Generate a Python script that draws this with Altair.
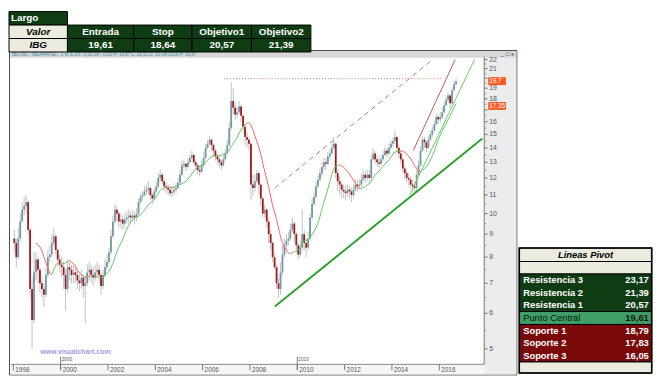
import altair as alt
import pandas as pd

# ------------------------------------------------------------------ data
start_year = 1998          # first monthly bar = January 1998
first_open = 8.8

close = [
    8.6, 8.0, 8.8, 9.6, 10.2, 10.4, 10.6, 9.2, 6.8, 5.8, 7.4, 7.9,
    7.5, 7.0, 6.8, 6.6, 7.3, 8.0, 8.1, 8.6, 8.9, 8.3, 7.9, 7.7,
    7.6, 7.3, 6.8, 7.6, 7.5, 7.3, 7.4, 7.3, 7.1, 7.0, 7.2, 6.9,
    7.0, 7.4, 7.5, 7.3, 7.2, 7.4, 7.5, 7.3, 6.9, 7.3, 7.6, 7.8,
    8.2, 8.9, 9.6, 10.2, 10.0, 9.6, 9.7, 9.5, 9.7, 9.8, 9.9, 9.8,
    9.9, 9.8, 10.0, 10.6, 10.9, 11.0, 11.2, 11.3, 11.4, 11.0, 10.8, 11.2,
    11.5, 12.0, 12.2, 11.8, 11.5, 11.4, 11.3, 11.1, 11.2, 11.3, 11.4, 11.7,
    12.2, 12.8, 12.9, 12.7, 13.0, 13.3, 13.5, 13.0, 12.8, 12.5, 12.4, 12.8,
    13.3, 14.0, 14.3, 14.6, 14.2, 13.8, 13.4, 13.2, 13.0, 12.8, 13.2, 13.6,
    14.2, 15.5, 17.8, 17.2, 16.6, 16.8, 17.3, 16.5, 15.6, 14.8, 14.6, 14.3,
    11.6, 11.4, 11.8, 12.3, 11.6, 10.8, 10.0, 10.2, 9.6, 9.0, 8.6, 8.0,
    7.6, 7.0, 6.8, 7.4, 8.1, 8.5, 8.7, 8.8, 9.2, 9.5, 9.0, 8.5,
    8.1, 8.4, 9.0, 8.6, 8.4, 8.8, 9.8, 10.5, 10.9, 11.5, 11.9, 12.3,
    12.7, 13.0, 12.9, 13.4, 13.6, 14.0, 14.3, 12.3, 11.8, 11.6, 11.3, 11.2,
    11.1, 11.3, 11.2, 11.0, 11.3, 11.6, 11.5, 11.6, 11.9, 12.2, 12.0, 12.2,
    12.0, 13.2, 13.6, 13.2, 13.0, 12.9, 13.2, 13.5, 13.8, 13.6, 14.0, 14.3,
    14.5, 14.8, 14.0, 13.6, 13.2, 12.6, 12.3, 12.0, 11.9, 11.6, 11.5, 11.4,
    12.2, 12.8, 13.8, 14.6, 14.4, 14.0, 14.6, 15.0, 15.3, 15.8, 16.4, 16.2,
    16.4, 16.8, 17.4, 17.9, 18.3, 17.6, 18.8, 19.4, 19.7,
]
high = [
    9.2, 8.8, 9.3, 10.0, 10.6, 10.9, 11.0, 10.7, 9.3, 7.2, 8.2, 8.2,
    8.0, 7.6, 7.2, 7.0, 7.6, 8.3, 8.5, 9.0, 9.3, 9.0, 8.4, 8.1,
    8.0, 7.8, 7.5, 7.9, 7.8, 7.7, 7.7, 7.6, 7.5, 7.3, 7.5, 7.3,
    7.3, 7.7, 7.8, 7.7, 7.6, 7.7, 7.8, 7.7, 7.4, 7.5, 7.9, 8.1,
    8.4, 9.2, 9.9, 10.5, 10.4, 10.1, 10.0, 9.9, 10.0, 10.1, 10.2, 10.1,
    10.2, 10.1, 10.3, 10.8, 11.1, 11.2, 11.5, 11.6, 11.8, 11.5, 11.1, 11.4,
    11.8, 12.3, 12.5, 12.3, 11.9, 11.7, 11.6, 11.5, 11.5, 11.6, 11.7, 12.0,
    12.5, 13.1, 13.2, 13.0, 13.3, 13.5, 13.8, 13.6, 13.2, 12.9, 12.8, 13.1,
    13.7, 14.3, 14.6, 14.9, 14.7, 14.3, 13.9, 13.6, 13.4, 13.2, 13.5, 13.9,
    14.6, 16.0, 19.6, 19.0, 17.6, 17.3, 17.8, 17.5, 16.6, 15.8, 15.2, 14.8,
    14.4, 12.2, 12.2, 12.5, 12.4, 11.7, 10.9, 10.5, 10.3, 9.8, 9.2, 8.7,
    8.2, 7.7, 7.2, 7.8, 8.5, 8.8, 9.0, 9.1, 9.5, 9.8, 9.6, 9.1,
    8.6, 8.7, 10.2, 9.2, 8.8, 9.1, 10.0, 10.8, 11.2, 11.8, 12.2, 12.6,
    13.0, 13.3, 13.3, 13.7, 13.9, 14.3, 14.8, 14.4, 12.5, 12.1, 11.8, 11.6,
    11.5, 11.6, 11.5, 11.4, 11.6, 11.9, 11.9, 11.9, 12.3, 12.5, 12.4, 12.5,
    12.5, 13.5, 14.0, 13.8, 13.4, 13.3, 13.5, 13.8, 14.1, 14.0, 14.3, 14.6,
    14.8, 15.3, 14.9, 14.2, 13.8, 13.3, 12.8, 12.5, 12.3, 12.1, 11.9, 11.8,
    12.5, 13.2, 14.1, 14.9, 14.8, 14.5, 14.9, 15.3, 15.6, 16.1, 16.7, 16.6,
    16.8, 17.2, 17.7, 18.2, 18.6, 18.4, 19.1, 19.7, 20.0,
]
low = [
    8.2, 7.6, 7.9, 8.7, 9.6, 9.9, 10.0, 9.0, 6.5, 5.0, 5.7, 7.1,
    7.0, 6.7, 6.5, 6.2, 6.5, 7.2, 7.8, 8.0, 8.5, 8.1, 7.6, 7.4,
    7.2, 6.8, 6.1, 6.7, 7.1, 7.0, 7.0, 7.0, 6.8, 6.7, 6.8, 6.5,
    5.7, 6.9, 7.1, 7.0, 6.9, 7.1, 7.2, 7.0, 6.6, 6.8, 7.2, 7.5,
    7.7, 8.1, 8.8, 9.5, 9.6, 9.3, 9.3, 9.2, 9.3, 9.5, 9.5, 9.5,
    9.6, 9.5, 9.6, 9.9, 10.5, 10.7, 10.9, 11.0, 11.0, 10.7, 10.5, 10.7,
    11.1, 11.4, 11.8, 11.6, 11.2, 11.1, 11.0, 10.9, 10.9, 11.0, 11.1, 11.3,
    11.6, 12.1, 12.6, 12.4, 12.6, 12.9, 13.1, 12.8, 12.5, 12.2, 12.1, 12.3,
    12.7, 13.2, 13.9, 14.2, 13.8, 13.4, 13.1, 12.9, 12.7, 12.5, 12.7, 13.1,
    13.5, 14.1, 15.3, 16.6, 16.2, 16.3, 16.6, 16.0, 15.2, 14.2, 14.0, 13.8,
    10.7, 10.9, 11.2, 11.7, 11.0, 10.4, 9.8, 9.8, 9.3, 8.6, 8.3, 7.8,
    7.5, 6.8, 6.5, 6.6, 7.3, 8.0, 8.3, 8.5, 8.7, 9.1, 8.6, 8.2,
    7.9, 8.0, 8.3, 8.3, 8.0, 8.3, 8.7, 9.7, 10.4, 10.8, 11.4, 11.8,
    12.1, 12.5, 12.5, 12.8, 13.2, 13.5, 13.9, 12.0, 11.2, 11.0, 10.8, 10.8,
    10.7, 10.9, 10.8, 10.6, 10.8, 11.2, 11.2, 11.3, 11.5, 11.8, 11.7, 11.8,
    11.6, 11.9, 13.1, 12.9, 12.7, 12.6, 12.8, 13.1, 13.4, 13.3, 13.5, 13.9,
    14.1, 14.3, 13.7, 13.3, 12.9, 12.3, 11.9, 11.7, 11.5, 11.3, 11.2, 11.1,
    11.2, 12.1, 12.7, 13.7, 14.0, 13.7, 13.9, 14.5, 14.8, 15.2, 15.7, 15.8,
    15.9, 16.2, 16.7, 17.3, 17.7, 17.1, 17.5, 18.7, 19.3,
]

# drawn lines (decimal year, price)
resist_t, resist_p = [2006.91, 2016.13], [19.95, 19.95]      # dotted horizontal
channel_t, channel_p = [2009.05, 2015.72], [11.4, 22.0]      # dashed channel
upper_t, upper_p = [2014.90, 2016.67], [13.8, 22.0]          # thin red
fast_t, fast_p = [2014.77, 2017.49], [11.04, 22.0]           # thin green
support_t, support_p = [2009.05, 2017.82], [6.21, 14.69]     # thick green

tag_values = [19.7, 17.35]
tag_labels = ["19.7", "17.35"]
decade_years = [2000, 2010]
year_ticks = list(range(1998, 2017, 2))
price_ticks = list(range(5, 23))
price_minor = [v + 0.5 for v in range(5, 22)]

table_title = "Largo"
row_labels = ["Valor", "IBG"]
col_headers = ["Entrada", "Stop", "Objetivo1", "Objetivo2"]
col_values = ["19,61", "18,64", "20,57", "21,39"]

pivot_title = "Lineas Pivot"
pivot_names = ["Resistencia 3", "Resistencia 2", "Resistencia 1", "Punto Central",
               "Soporte 1", "Soporte 2", "Soporte 3"]
pivot_values = ["23,17", "21,39", "20,57", "19,61", "18,79", "17,83", "16,05"]

header_text = ("IBG.MC  -  IBERPAPEL  -   1  W  &  Dif.: 0,00  Dif.: 0,00  "
               "H: 19,87  L: 19,51  D: 15-09-2016  P: 19,97")
watermark = "www.visualchart.com"

# ------------------------------------------------------------------ layout
FONT = "Liberation Sans"
DARK_GREEN = "#0f3c12"
MID_GREEN = "#3f9d68"
DARK_RED = "#7a0a0a"
BEIGE = "#ecebdf"
AXIS_GREY = "#777777"
LABEL_GREY = "#555555"

TOTAL_W, TOTAL_H = 654, 370
SX, SY = TOTAL_W / 663, TOTAL_H / 380


def X(r):
    return r * SX


def Y(r):
    return r * SY


PX0, PX1, PY0, PY1 = X(2), X(488), Y(47), Y(367)
PW, PH = PX1 - PX0, PY1 - PY0


def lx(r):
    return X(r) - PX0


def ly(r):
    return Y(r) - PY0


def rect_df(rows):
    return pd.DataFrame([
        dict(x0=lx(a), x1=lx(b), y0=ly(c), y1=ly(d), fill=f, stroke=s, sw=w)
        for a, b, c, d, f, s, w in rows
    ])


def rect_layer(df):
    return alt.Chart(df).mark_rect().encode(
        x=alt.X("x0:Q", scale=None, axis=None), x2="x1:Q",
        y=alt.Y("y0:Q", scale=None, axis=None), y2="y1:Q",
        fill=alt.Fill("fill:N", scale=None),
        stroke=alt.Stroke("stroke:N", scale=None),
        strokeWidth=alt.StrokeWidth("sw:Q", scale=None),
    )


# background / window decoration (reference pixel boxes)
deco = rect_layer(rect_df([
    (0, 663, 0, 380, "#ffffff", "transparent", 0),
    (0.5, 521.5, 40.5, 378, "#ffffff", "#4d4d4d", 1),
    (1, 521, 41, 48, "#d7d7d7", "transparent", 0),
    (488, 521, 48, 377.5, "#ececec", "transparent", 0),
    (1, 488, 367, 377.5, "#f6f6f6", "transparent", 0),
]))

# tables
cols = [0, 60, 128, 188, 249, 310]
cell_rows = [(0, 60, 0, 14, DARK_GREEN, "#000000", 1),
             (0, 60, 14, 28, BEIGE, "#000000", 1),
             (0, 60, 28, 42, BEIGE, "#000000", 1)]
for i in range(len(col_headers)):
    cell_rows.append((cols[i + 1], cols[i + 2], 14, 28, DARK_GREEN, "#000000", 1))
    cell_rows.append((cols[i + 1], cols[i + 2], 28, 42, DARK_GREEN, "#000000", 1))
PV0, PV1 = 524, 660
pivot_bounds = [273, 286, 299, 312, 325.5, 338.5, 351.5, 364.5]
pivot_fills = [DARK_GREEN] * 3 + [MID_GREEN] + [DARK_RED] * 3
cell_rows += [
    (PV0, PV1, 246, 260, BEIGE, "#000000", 1),
    (PV0, PV1, 260, 273, BEIGE, "#000000", 1),
    (PV0, PV1, 273, 312, DARK_GREEN, "#000000", 1),
    (PV0, PV1, 312, 325.5, MID_GREEN, "#000000", 1),
    (PV0, PV1, 325.5, 364.5, DARK_RED, "#000000", 1),
    (PV0, PV1, 364.5, 376, BEIGE, "#000000", 1),
    (PV0, PV1, 246, 376, "transparent", "#000000", 1.6),
]
cells = rect_layer(rect_df(cell_rows))

txt = []


def add_txt(g, rx, ry, s, color, fs):
    txt.append(dict(g=g, x=lx(rx), y=ly(ry), text=s, color=color, fs=fs))


add_txt("lb", 2, 7, table_title, "#ffffff", 10)
add_txt("cbi", 30, 21, row_labels[0], "#000000", 10)
add_txt("cbi", 30, 35, row_labels[1], "#000000", 10)
for i in range(len(col_headers)):
    cx = (cols[i + 1] + cols[i + 2]) / 2
    add_txt("cb", cx, 21, col_headers[i], "#ffffff", 10)
    add_txt("cb", cx, 35, col_values[i], "#ffffff", 10)
add_txt("cbi", (PV0 + PV1) / 2, 253.5, pivot_title, "#000000", 9.5)
for i, (nm, v) in enumerate(zip(pivot_names, pivot_values)):
    cy = (pivot_bounds[i] + pivot_bounds[i + 1]) / 2
    central = pivot_fills[i] == MID_GREEN
    add_txt("ln" if central else "lb", 528, cy, nm, "#0a1a0a" if central else "#ffffff", 9.5)
    add_txt("rb", 657, cy, v, "#0a1a0a" if central else "#ffffff", 9.5)
tdf = pd.DataFrame(txt)

styles = {
    "lb": dict(align="left", fontWeight="bold"),
    "cbi": dict(align="center", fontWeight="bold", fontStyle="italic"),
    "cb": dict(align="center", fontWeight="bold"),
    "ln": dict(align="left"),
    "rb": dict(align="right", fontWeight="bold"),
}
text_layers = []
for g, st in styles.items():
    d = tdf[tdf.g == g]
    text_layers.append(
        alt.Chart(d).mark_text(baseline="middle", font=FONT, **st).encode(
            x=alt.X("x:Q", scale=None, axis=None),
            y=alt.Y("y:Q", scale=None, axis=None),
            text="text:N",
            color=alt.Color("color:N", scale=None),
            size=alt.Size("fs:Q", scale=None),
        )
    )

head_txt = alt.Chart(pd.DataFrame({"s": [header_text]})).mark_text(
    align="left", baseline="middle", fontSize=4.6, color="#3f8e9e", font=FONT).encode(
    x=alt.value(lx(3)), y=alt.value(ly(44.8)), text="s:N")
btn_txt = alt.Chart(pd.DataFrame({"s": ["_ \u25a1 x"]})).mark_text(
    align="left", baseline="middle", fontSize=6, color="#333333", font=FONT).encode(
    x=alt.value(lx(505)), y=alt.value(ly(44.5)), text="s:N")
wm_txt = alt.Chart(pd.DataFrame({"s": [watermark]})).mark_text(
    align="left", baseline="middle", fontSize=7, fontWeight="bold",
    color="#a0a0e6", font=FONT).encode(
    x=alt.value(lx(32)), y=alt.value(ly(354)), text="s:N")

# ------------------------------------------------------------------ price panel
n = len(close)
price = pd.DataFrame({
    "t": [start_year + (i + 0.5) / 12 for i in range(n)],
    "open": [first_open] + close[:-1],
    "close": close,
    "high": high,
    "low": low,
})

xs = alt.Scale(domain=[1997.9, 2017.9], nice=False, zero=False)
ys = alt.Scale(type="log", domain=[4.62, 22.32], nice=False)

wicks = alt.Chart(price).mark_rule(color="#c2c2c2", strokeWidth=1).encode(
    x=alt.X("t:Q", scale=xs, axis=None),
    y=alt.Y("low:Q", scale=ys, axis=None),
    y2="high:Q",
)
bodies = alt.Chart(price).mark_rule(strokeWidth=1.8).encode(
    x=alt.X("t:Q", scale=xs, axis=None),
    y=alt.Y("open:Q", scale=ys, axis=None),
    y2="close:Q",
    color=alt.condition("datum.close >= datum.open",
                        alt.value("#7098a3"), alt.value("#a01818")),
)

ma = alt.Chart(price).transform_window(
    ma="mean(close)", n="count()", frame=[-11, 0], sort=[alt.SortField("t")]
).transform_window(
    pma="lag(ma)", pt="lag(t)", pn="lag(n)", sort=[alt.SortField("t")]
).transform_filter("datum.pn >= 12").transform_calculate(
    dir="datum.ma >= datum.pma ? 'up' : 'down'"
).mark_rule(strokeWidth=1).encode(
    x=alt.X("pt:Q", scale=xs, axis=None), x2="t:Q",
    y=alt.Y("pma:Q", scale=ys, axis=None), y2="ma:Q",
    color=alt.Color("dir:N", scale=alt.Scale(domain=["up", "down"],
                                             range=["#62c862", "#ff6060"]), legend=None),
)


def trend(ts, ps, **mk):
    return alt.Chart(pd.DataFrame({"t": ts, "p": ps})).mark_line(clip=True, **mk).encode(
        x=alt.X("t:Q", scale=xs, axis=None),
        y=alt.Y("p:Q", scale=ys, axis=None),
    )


resist = trend(resist_t, resist_p, color="#d89090", strokeWidth=1.2, strokeDash=[1, 2])
channel = trend(channel_t, channel_p, color="#c47a7a", strokeWidth=1, strokeDash=[5, 4])
upper = trend(upper_t, upper_p, color="#b85a5a", strokeWidth=1)
fast = trend(fast_t, fast_p, color="#6acc5a", strokeWidth=1)
support = trend(support_t, support_p, color="#2ea12e", strokeWidth=2)

# ---- hand-built axes (through the same scales)
yt = pd.DataFrame({"v": price_ticks})
y_domain = alt.Chart(yt.head(1)).mark_rule(color=AXIS_GREY).encode(
    x=alt.value(PW), y=alt.value(0), y2=alt.value(PH))
y_ticks = alt.Chart(yt).mark_rule(color=AXIS_GREY).encode(
    x=alt.value(PW), x2=alt.value(PW + 3.5), y=alt.Y("v:Q", scale=ys, axis=None))
y_minor = alt.Chart(pd.DataFrame({"v": price_minor})).mark_rule(color="#999999").encode(
    x=alt.value(PW), x2=alt.value(PW + 2), y=alt.Y("v:Q", scale=ys, axis=None))
y_labels = alt.Chart(yt).transform_filter("datum.v != 17 && datum.v != 20").mark_text(
    align="left", baseline="middle", fontSize=7, color=LABEL_GREY, font=FONT).encode(
    x=alt.value(PW + 5), y=alt.Y("v:Q", scale=ys, axis=None),
    text=alt.Text("v:Q", format="d"))

xt = pd.DataFrame({"yr": year_ticks})
x_domain = alt.Chart(xt.head(1)).mark_rule(color="#888888").encode(
    x=alt.value(0), x2=alt.value(PW), y=alt.value(PH))
x_ticks = alt.Chart(xt).mark_rule(color=AXIS_GREY).encode(
    x=alt.X("yr:Q", scale=xs, axis=None), y=alt.value(PH), y2=alt.value(PH + 6))
x_labels = alt.Chart(xt).mark_text(
    align="left", baseline="middle", fontSize=6.5, color=LABEL_GREY, dx=2, font=FONT).encode(
    x=alt.X("yr:Q", scale=xs, axis=None), y=alt.value(PH + 5.5),
    text=alt.Text("yr:Q", format="d"))

dec = pd.DataFrame({"yr": decade_years})
dec_tick = alt.Chart(dec).mark_rule(color=AXIS_GREY).encode(
    x=alt.X("yr:Q", scale=xs, axis=None), y=alt.value(ly(359)), y2=alt.value(ly(373)))
dec_txt = alt.Chart(dec).mark_text(align="left", baseline="middle", fontSize=4.8,
                                   color=LABEL_GREY, dx=1, font=FONT).encode(
    x=alt.X("yr:Q", scale=xs, axis=None), y=alt.value(ly(362.3)),
    text=alt.Text("yr:Q", format="d"))

tags = pd.DataFrame({"v": tag_values, "txt": tag_labels})
tag_box = alt.Chart(tags).mark_rule(strokeWidth=8, color="#ff5a1f", strokeCap="butt").encode(
    x=alt.value(PW + 4), x2=alt.value(PW + 22),
    y=alt.Y("v:Q", scale=ys, axis=None),
)
tag_txt = alt.Chart(tags).mark_text(align="left", baseline="middle", fontSize=6.5,
                                    color="#ffffff", font=FONT).encode(
    x=alt.value(PW + 5), y=alt.Y("v:Q", scale=ys, axis=None), text="txt:N",
)

chart = alt.layer(
    deco, wicks, bodies, ma, resist, channel, upper, fast, support,
    y_domain, y_minor, y_ticks, y_labels, x_domain, x_ticks, x_labels,
    dec_tick, dec_txt, tag_box, tag_txt, head_txt, btn_txt, wm_txt,
    cells, *text_layers,
).properties(width=PW, height=PH, padding=0).configure_view(strokeWidth=0)

chart.save("out.html", embed_options={"renderer": "svg", "actions": False})
